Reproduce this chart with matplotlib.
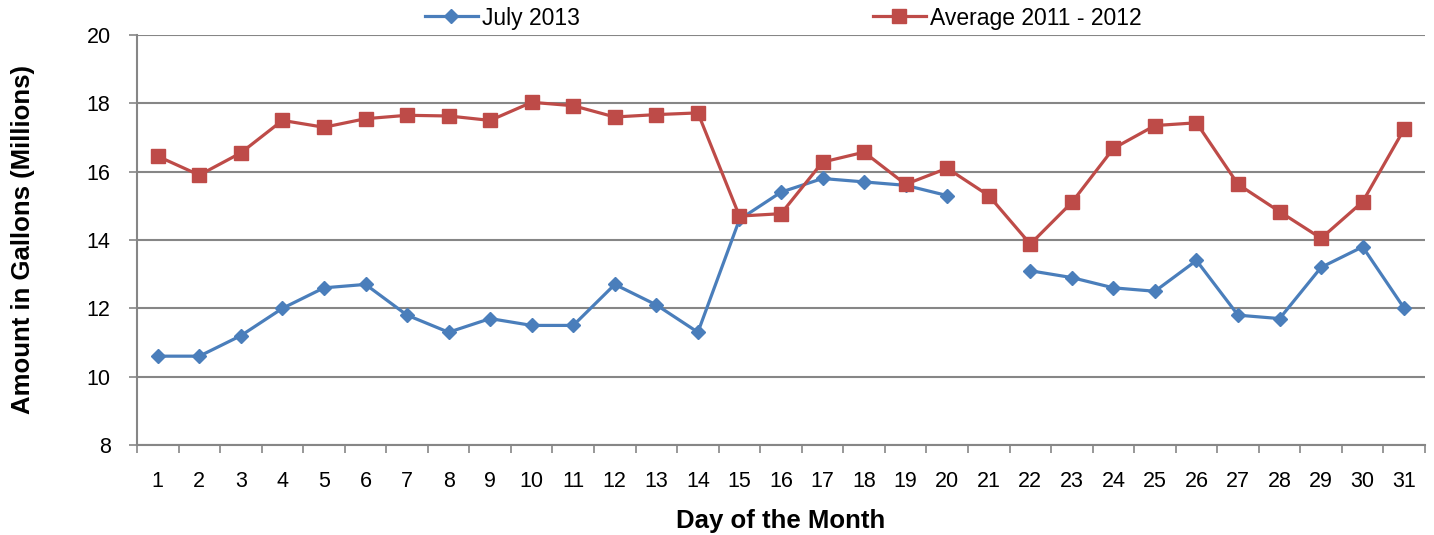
import numpy as np
import matplotlib.pyplot as plt

# ── Data ─────────────────────────────────────────────
days = np.arange(1, 32)
july_2013 = [10.6, 10.6, 11.2, 12.0, 12.6, 12.7, 11.8, 11.3, 11.7, 11.5,
             11.5, 12.7, 12.1, 11.3, 14.6, 15.4, 15.8, 15.7, 15.6, 15.3,
             np.nan, 13.1, 12.9, 12.6, 12.5, 13.4, 11.8, 11.7, 13.2, 13.8,
             12.0]
avg_2011_2012 = [16.45, 15.9, 16.55, 17.5, 17.3, 17.55, 17.65, 17.63, 17.5, 18.03,
                 17.93, 17.6, 17.67, 17.72, 14.7, 14.77, 16.28, 16.57, 15.63, 16.1,
                 15.3, 13.88, 15.1, 16.68, 17.35, 17.43, 15.63, 14.83, 14.05, 15.12,
                 17.25]
y_ticks = [8, 10, 12, 14, 16, 18, 20]

BLUE = "#4A7EBB"
RED = "#BE4B48"
GRID = "#868686"
W, H = 1434, 535

plt.rcParams["font.family"] = ["Liberation Sans", "DejaVu Sans"]

fig = plt.figure(figsize=(W / 100, H / 100), dpi=100)
ax = fig.add_axes([137 / W, 1 - 445 / H, (1425 - 137) / W, (445 - 35) / H])

l1, = ax.plot(days, july_2013, color=BLUE, lw=2.3, marker="D", markersize=7.5)
l2, = ax.plot(days, avg_2011_2012, color=RED, lw=2.3, marker="s", markersize=10)

ax.set_xlim(0.5, 31.5)
ax.set_ylim(8, 20)
ax.set_yticks(y_ticks)
ax.set_xticks(days)
ax.set_xticks(np.arange(0.5, 32, 1), minor=True)
ax.tick_params(axis="x", which="major", length=0, labelsize=15.5, pad=19)
ax.tick_params(axis="x", which="minor", length=6, color=GRID, width=1.2)
ax.tick_params(axis="y", length=6, color=GRID, width=1.2, labelsize=15.5, pad=13)

ax.grid(axis="y", color=GRID, lw=1.5)
ax.set_axisbelow(True)
for s in ["top", "right"]:
    ax.spines[s].set_visible(False)
for s in ["left", "bottom"]:
    ax.spines[s].set_color(GRID)
    ax.spines[s].set_linewidth(1.5)

ax.set_xlabel("Day of the Month", fontsize=18.5, fontweight="bold", labelpad=12)
ax.set_ylabel("Amount in Gallons (Millions)", fontsize=18.5, fontweight="bold", labelpad=37)

# two separate legend entries, placed where the reference has them
leg_kw = dict(frameon=False, fontsize=16.5, handlelength=2.3, handletextpad=0.2,
              borderpad=0, borderaxespad=0, loc="center left")
leg1 = fig.legend([l1], ["July 2013"], bbox_to_anchor=(425 / W, 1 - 18 / H), **leg_kw)
leg2 = fig.legend([l2], ["Average 2011 - 2012"], bbox_to_anchor=(873 / W, 1 - 18 / H), **leg_kw)

fig.savefig("out.png", dpi=100)
